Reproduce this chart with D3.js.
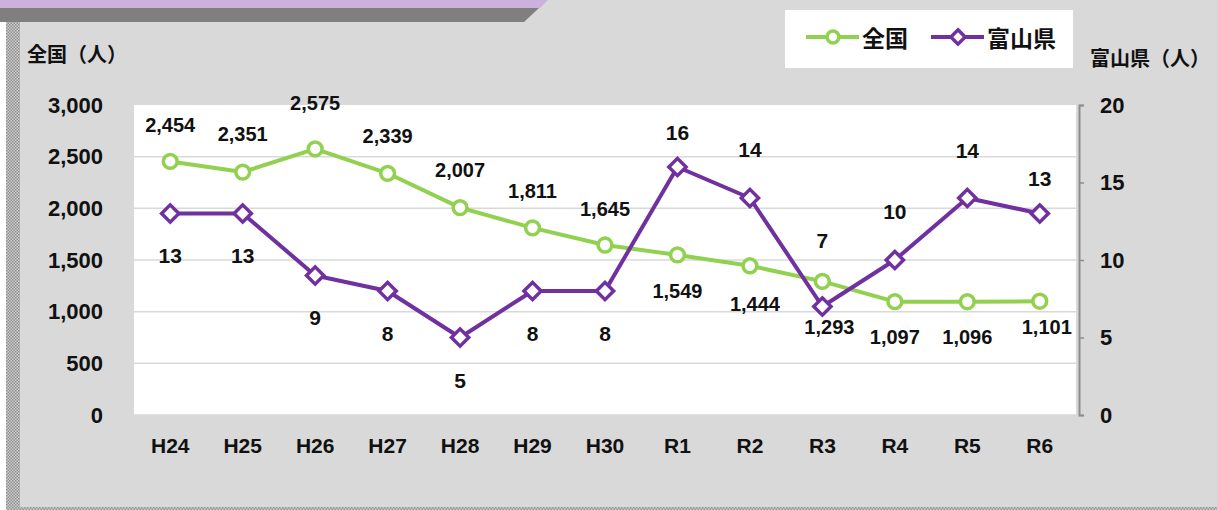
<!DOCTYPE html>
<html>
<head lang="ja">
    <meta charset="UTF-8">
    <title>全国・富山県</title>
    <script src="https://cdn.jsdelivr.net/npm/d3@7"></script>
    <style>
        body { margin: 0; background: #d9d9d9; }
        svg { display: block; }
        text { font-family: "Liberation Sans", "Noto Sans CJK JP", sans-serif; fill: #111; }
    </style>
</head>
<body>
<div id="chart"></div>
<script>
    // データ
    var years = ["H24", "H25", "H26", "H27", "H28", "H29", "H30", "R1", "R2", "R3", "R4", "R5", "R6"];
    var zenkoku = [2454, 2351, 2575, 2339, 2007, 1811, 1645, 1549, 1444, 1293, 1097, 1096, 1101];
    var toyama = [13, 13, 9, 8, 5, 8, 8, 16, 14, 7, 10, 14, 13];
    var leftTicks = [0, 500, 1000, 1500, 2000, 2500, 3000];
    var rightTicks = [0, 5, 10, 15, 20];

    // ラベルのずらし量 (レイアウト)
    var zenkokuDy = [-36, -38, -46, -37, -38, -37, -36, 36, 38, 46, 35, 35, 26];
    var zenkokuDx = [0, 0, 0, 0, 0, 0, 0, 0, 5, 7, 0, 0, 7];
    var toyamaDy = [42, 42, 42, 42, 43, 42, 42, -35, -49, -66, -49, -48, -35];

    var W = 1217, H = 510;
    var green = "#92d050", purple = "#7030a0";
    var pLeft = 134, pRight = 1076, pTop = 105, pBottom = 415;

    var svg = d3.select("#chart").append("svg")
            .attr("width", W)
            .attr("height", H);

    // 背景・飾り
    svg.append("rect").attr("width", W).attr("height", H).attr("fill", "#d9d9d9");
    svg.append("rect").attr("x", 0).attr("y", 22).attr("width", 6).attr("height", H - 22).attr("fill", "#fff");
    var pat = svg.append("defs").append("pattern")
            .attr("id", "dots").attr("width", 3).attr("height", 3)
            .attr("patternUnits", "userSpaceOnUse");
    pat.append("rect").attr("width", 3).attr("height", 3).attr("fill", "#d0d0d0");
    pat.append("rect").attr("width", 1.5).attr("height", 1.5).attr("fill", "#8c8c8c");
    pat.append("rect").attr("x", 1.5).attr("y", 1.5).attr("width", 1.5).attr("height", 1.5).attr("fill", "#8c8c8c");
    svg.append("rect").attr("x", 6).attr("y", 22).attr("width", 14).attr("height", H - 22).attr("fill", "url(#dots)");
    svg.append("rect").attr("x", 6).attr("y", 507).attr("width", W - 6).attr("height", 3).attr("fill", "url(#dots)");
    svg.append("path").attr("d", "M0,0 H548 L540,8 H0 Z").attr("fill", "#cdb1dd");
    svg.append("path").attr("d", "M0,8 H539 L524,22 H0 Z").attr("fill", "#7f7f7f");

    var x = d3.scaleBand().domain(years).range([pLeft, pRight]);
    var yL = d3.scaleLinear().domain([0, 3000]).range([pBottom, pTop]);
    var yR = d3.scaleLinear().domain([0, 20]).range([pBottom, pTop]);
    var cx = function(d, i){ return x(years[i]) + x.bandwidth() / 2; };

    // プロットエリア
    svg.append("rect")
            .attr("x", pLeft).attr("y", pTop)
            .attr("width", pRight - pLeft).attr("height", pBottom - pTop)
            .attr("fill", "#fff");

    svg.append("g").selectAll("line")
            .data(leftTicks.filter(function(t){ return t < 3000; }))
            .enter().append("line")
            .attr("x1", pLeft).attr("x2", pRight)
            .attr("y1", function(d){ return yL(d); })
            .attr("y2", function(d){ return yL(d); })
            .attr("stroke", "#d9d9d9")
            .attr("stroke-width", 1.5);

    // 左軸
    var gl = svg.append("g")
            .attr("transform", "translate(" + (pLeft - 28) + ",0)")
            .call(d3.axisLeft(yL).tickValues(leftTicks).tickSize(0).tickFormat(d3.format(",")));
    gl.select(".domain").remove();
    gl.selectAll("text")
            .style("font-size", "22px").style("font-weight", "bold")
            .style("font-family", "'Liberation Sans', sans-serif");

    // 右軸
    var gr = svg.append("g")
            .attr("transform", "translate(" + (pRight + 3) + ",0)")
            .call(d3.axisRight(yR).tickValues(rightTicks).tickSize(5).tickSizeOuter(5).tickPadding(16));
    gr.select(".domain").attr("stroke", "#8c8c8c").attr("stroke-width", 2);
    gr.selectAll(".tick line").attr("stroke", "#8c8c8c").attr("stroke-width", 1.5);
    gr.selectAll("text")
            .style("font-size", "22px").style("font-weight", "bold")
            .style("font-family", "'Liberation Sans', sans-serif");

    // 横軸
    var gx = svg.append("g")
            .attr("transform", "translate(0," + pBottom + ")")
            .call(d3.axisBottom(x).tickSize(0).tickPadding(23));
    gx.select(".domain").remove();
    gx.selectAll("text")
            .style("font-size", "21px").style("font-weight", "bold")
            .style("font-family", "'Liberation Sans', sans-serif");

    // 軸タイトル
    svg.append("text").attr("x", 27).attr("y", 53).attr("dominant-baseline", "central")
            .style("font-size", "20px").style("font-weight", "bold")
            .style("font-family", "'Noto Sans CJK JP', sans-serif")
            .text("全国（人）");
    svg.append("text").attr("x", 1090).attr("y", 57).attr("dominant-baseline", "central")
            .style("font-size", "20px").style("font-weight", "bold")
            .style("font-family", "'Noto Sans CJK JP', sans-serif")
            .text("富山県（人）");

    // 線
    var lineL = d3.line().x(cx).y(function(d){ return yL(d); });
    var lineR = d3.line().x(cx).y(function(d){ return yR(d); });

    svg.append("path").datum(zenkoku)
            .attr("d", lineL).attr("fill", "none")
            .attr("stroke", green).attr("stroke-width", 4).attr("stroke-linejoin", "round");
    svg.append("path").datum(toyama)
            .attr("d", lineR).attr("fill", "none")
            .attr("stroke", purple).attr("stroke-width", 4).attr("stroke-linejoin", "round");

    var circle = d3.symbol().type(d3.symbolCircle).size(150);
    var diamond = d3.symbol().type(d3.symbolDiamond2).size(190);

    svg.append("g").selectAll("path").data(zenkoku).enter().append("path")
            .attr("d", circle)
            .attr("transform", function(d, i){ return "translate(" + cx(d, i) + "," + yL(d) + ")"; })
            .attr("fill", "#fff").attr("stroke", green).attr("stroke-width", 3.5);
    svg.append("g").selectAll("path").data(toyama).enter().append("path")
            .attr("d", diamond)
            .attr("transform", function(d, i){ return "translate(" + cx(d, i) + "," + yR(d) + ")"; })
            .attr("fill", "#fff").attr("stroke", purple).attr("stroke-width", 3.5);

    // データラベル
    svg.append("g").selectAll("text").data(zenkoku).enter().append("text")
            .attr("x", function(d, i){ return cx(d, i) + zenkokuDx[i]; })
            .attr("y", function(d, i){ return yL(d) + zenkokuDy[i]; })
            .attr("text-anchor", "middle").attr("dominant-baseline", "central")
            .style("font-size", "20px").style("font-weight", "bold")
            .text(function(d){ return d3.format(",")(d); });
    svg.append("g").selectAll("text").data(toyama).enter().append("text")
            .attr("x", function(d, i){ return cx(d, i); })
            .attr("y", function(d, i){ return yR(d) + toyamaDy[i]; })
            .attr("text-anchor", "middle").attr("dominant-baseline", "central")
            .style("font-size", "21px").style("font-weight", "bold")
            .text(function(d){ return d; });

    // 凡例
    var lg = svg.append("g");
    lg.append("rect").attr("x", 785).attr("y", 10).attr("width", 288).attr("height", 58).attr("fill", "#fff");
    var items = [
        {name: "全国", color: green, sym: d3.symbol().type(d3.symbolCircle).size(110), x: 806},
        {name: "富山県", color: purple, sym: d3.symbol().type(d3.symbolDiamond2).size(130), x: 931}
    ];
    items.forEach(function(it){
        lg.append("line").attr("x1", it.x).attr("x2", it.x + 53).attr("y1", 37).attr("y2", 37)
                .attr("stroke", it.color).attr("stroke-width", 4);
        lg.append("path").attr("d", it.sym())
                .attr("transform", "translate(" + (it.x + 27) + ",37)")
                .attr("fill", "#fff").attr("stroke", it.color).attr("stroke-width", 3.5);
        lg.append("text").attr("x", it.x + 56).attr("y", 37).attr("dominant-baseline", "central")
                .style("font-size", "23px").style("font-weight", "bold")
                .style("font-family", "'Noto Sans CJK JP', sans-serif")
                .text(it.name);
    });
</script>
</body>
</html>
